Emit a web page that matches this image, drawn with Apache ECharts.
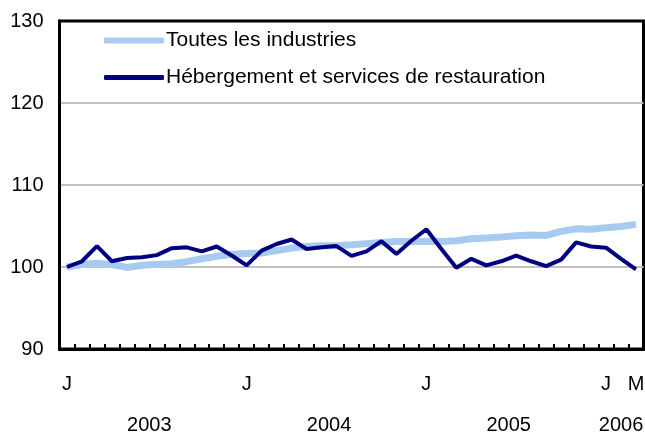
<!DOCTYPE html>
<html>
<head>
<meta charset="utf-8">
<script src="https://cdn.jsdelivr.net/npm/echarts@6/dist/echarts.min.js"></script>
<style>
html,body{margin:0;padding:0;background:#fff;}
#c{width:645px;height:433px;}
</style>
</head>
<body>
<div id="c"></div>
<script>
// Months Jan 2003 .. Mar 2006
const months = ["J","F","M","A","M","J","J","A","S","O","N","D",
                "J","F","M","A","M","J","J","A","S","O","N","D",
                "J","F","M","A","M","J","J","A","S","O","N","D",
                "J","F","M"];
const years = ["2003","2003","2003","2003","2003","2003","2003","2003","2003","2003","2003","2003",
               "2004","2004","2004","2004","2004","2004","2004","2004","2004","2004","2004","2004",
               "2005","2005","2005","2005","2005","2005","2005","2005","2005","2005","2005","2005",
               "2006","2006","2006"];
const labeledMonths = [0, 12, 24, 36, 38];
const yTicks = [90, 100, 110, 120, 130];

const toutes = [100.0,100.3,100.45,100.3,99.95,100.2,100.3,100.4,100.65,101.0,101.3,101.55,
                101.65,101.7,102.0,102.3,102.5,102.6,102.6,102.7,102.85,103.0,103.1,103.1,
                103.15,103.1,103.2,103.45,103.55,103.65,103.8,103.9,103.85,104.35,104.65,104.6,
                104.8,104.95,105.2];
const hebergement = [100.0,100.7,102.55,100.7,101.1,101.2,101.45,102.3,102.4,101.9,102.5,101.4,
                     100.2,102.0,102.8,103.35,102.2,102.4,102.55,101.35,101.9,103.15,101.6,103.2,
                     104.6,102.2,99.9,101.0,100.2,100.7,101.4,100.7,100.1,100.9,103.0,102.5,
                     102.35,101.0,99.7];

const seriesNames = ["Toutes les industries", "Hébergement et services de restauration"];

// year label positions: mean month index of each year
const yearList = [...new Set(years)];
const yearPos = yearList.map(y => {
  const idx = years.map((v,i)=>v===y?i:-1).filter(i=>i>=0);
  return idx.reduce((a,b)=>a+b,0)/idx.length;
});

const font = 'Arial, "Liberation Sans", sans-serif';
const chart = echarts.init(document.getElementById('c'), null, {renderer:'canvas'});
chart.setOption({
  animation: false,
  backgroundColor: '#fff',
  grid: {left: 59.5, right: 1.5, top: 21, bottom: 84, containLabel: false, outerBoundsMode: 'none',
         show: true, borderColor: '#000', borderWidth: 3, backgroundColor: 'transparent'},
  legend: [
    {data: [seriesNames[0]], left: 104, top: 30, padding: 0, orient: 'vertical', icon: 'roundRect',
     itemWidth: 60, itemHeight: 6, itemGap: 0,
     textStyle: {fontFamily: font, fontSize: 21, lineHeight: 21, color: '#000', padding: [0,0,0,-3]}},
    {data: [seriesNames[1]], left: 104, top: 67, padding: 0, orient: 'vertical', icon: 'roundRect',
     itemWidth: 60, itemHeight: 5, itemGap: 0,
     textStyle: {fontFamily: font, fontSize: 21, lineHeight: 21, color: '#000', padding: [0,0,0,-3]}}
  ],
  xAxis: [
    {type: 'category', data: months, boundaryGap: true, position: 'bottom', z: 5,
     axisLine: {lineStyle: {color: '#000', width: 3}},
     axisTick: {show: true, inside: true, length: 5, interval: 0, alignWithLabel: false, lineStyle: {color: '#000', width: 2}},
     axisLabel: {interval: (i)=>labeledMonths.includes(i), margin: 25,
                 fontFamily: font, fontSize: 20, color: '#000'},
     splitLine: {show: false}},
    {type: 'value', min: -0.5, max: months.length - 0.5, position: 'bottom',
     axisLine: {show: false}, axisTick: {show: false}, splitLine: {show: false},
     axisLabel: {customValues: yearPos, margin: 66, fontFamily: font, fontSize: 20, color: '#000',
                 formatter: (v)=>{const k = yearPos.indexOf(v); return k>=0?yearList[k]:'';}}}
  ],
  yAxis: {type: 'value', min: 90, max: 130, interval: 10,
    axisLine: {show: true, onZero: false, lineStyle: {color: '#000', width: 3}},
    axisTick: {show: false},
    axisLabel: {margin: 16, fontFamily: font, fontSize: 20, color: '#000',
                formatter: (v)=>yTicks.includes(v)?String(v):''},
    splitLine: {show: true, lineStyle: {color: ['#000','#c0c0c0','#c0c0c0','#c0c0c0','#000'], width: 2}}},
  series: [
    {name: seriesNames[0], type: 'line', data: toutes, xAxisIndex: 0, showSymbol: false,
     lineStyle: {color: '#a6caf0', width: 7}, itemStyle: {color: '#a6caf0'}, z: 2},
    {name: seriesNames[1], type: 'line', data: hebergement, xAxisIndex: 0, showSymbol: false,
     lineStyle: {color: '#000080', width: 4}, itemStyle: {color: '#000080'}, z: 3}
  ]
});
</script>
</body>
</html>
